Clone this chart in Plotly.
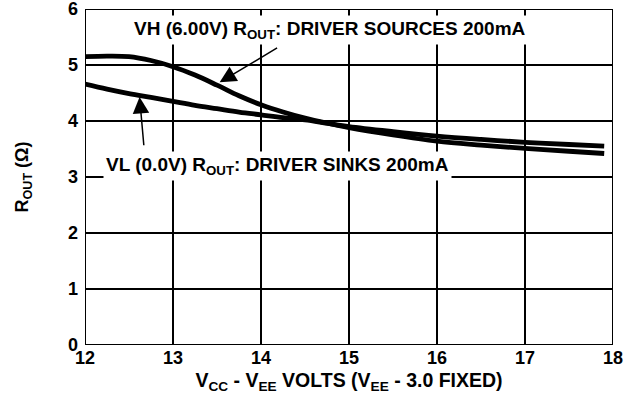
import plotly.graph_objects as go

x_vals = [12, 12.25, 12.5, 12.75, 13, 13.25, 13.5, 13.75, 14, 14.25, 14.5, 14.75, 15, 15.5, 16, 16.5, 17, 17.5, 17.9]
vh_rout = [5.15, 5.16, 5.15, 5.08, 4.97, 4.82, 4.64, 4.45, 4.29, 4.16, 4.05, 3.96, 3.88, 3.75, 3.64, 3.57, 3.51, 3.46, 3.42]
vl_rout = [4.66, 4.57, 4.49, 4.42, 4.35, 4.28, 4.22, 4.16, 4.11, 4.06, 4.02, 3.96, 3.9, 3.81, 3.73, 3.67, 3.62, 3.58, 3.55]

x_ticks = [12, 13, 14, 15, 16, 17, 18]
y_ticks = [0, 1, 2, 3, 4, 5, 6]

label_vh = "VH (6.00V) R<sub>OUT</sub>: DRIVER SOURCES 200mA"
label_vl = "VL (0.0V) R<sub>OUT</sub>: DRIVER SINKS 200mA"
x_title = "V<sub>CC</sub> - V<sub>EE</sub> VOLTS (V<sub>EE</sub> - 3.0 FIXED)"
y_title = "R<sub>OUT</sub> (Ω)"

FONT = "Liberation Sans"
bold = lambda s: "<b>" + s + "</b>"

fig = go.Figure()

# grid + frame lines built from the tick arrays
gx, gy = [], []
for xv in x_ticks:
    gx += [xv, xv, None]
    gy += [y_ticks[0], y_ticks[-1], None]
for yv in y_ticks:
    gx += [x_ticks[0], x_ticks[-1], None]
    gy += [yv, yv, None]
fig.add_trace(go.Scatter(x=gx, y=gy, mode="lines", line=dict(color="black", width=2),
                         showlegend=False, hoverinfo="skip", cliponaxis=False))

fig.add_trace(go.Scatter(x=x_vals, y=vh_rout, mode="lines",
                         line=dict(color="black", width=4.8, shape="spline"), showlegend=False))
fig.add_trace(go.Scatter(x=x_vals, y=vl_rout, mode="lines",
                         line=dict(color="black", width=4.8, shape="spline"), showlegend=False))

fig.update_xaxes(range=[12, 18], tickmode="array", tickvals=x_ticks,
                 ticktext=[bold(str(v)) for v in x_ticks], automargin=False,
                 ticklabeloverflow="allow",
                 showline=False, showgrid=False, zeroline=False, ticks="",
                 tickfont=dict(family=FONT, size=18, color="black"),
                 title=dict(text=bold(x_title), font=dict(family=FONT, size=19.5, color="black"), standoff=6))
fig.update_yaxes(range=[0, 6], tickmode="array", tickvals=y_ticks,
                 ticktext=[bold(str(v)) for v in y_ticks], automargin=False,
                 ticklabeloverflow="allow",
                 showline=False, showgrid=False, zeroline=False, ticks="",
                 ticklabelstandoff=6,
                 tickfont=dict(family=FONT, size=18, color="black"),
                 title=dict(text=bold(y_title), font=dict(family=FONT, size=18, color="black"), standoff=34))

fig.add_annotation(x=14.78, y=5.62, text=bold(label_vh), showarrow=False,
                   bgcolor="white", borderpad=2, font=dict(family=FONT, size=19, color="black"))
fig.add_annotation(x=14.19, y=3.2, text=bold(label_vl), showarrow=False,
                   bgcolor="white", borderpad=2, font=dict(family=FONT, size=19, color="black"))
fig.add_annotation(x=13.53, y=4.69, ax=14.2, ay=5.32, axref="x", ayref="y", text="",
                   showarrow=True, arrowhead=2, arrowsize=2.2, arrowwidth=1.5, arrowcolor="black")
fig.add_annotation(x=12.62, y=4.43, ax=12.67, ay=3.54, axref="x", ayref="y", text="",
                   showarrow=True, arrowhead=2, arrowsize=2.2, arrowwidth=1.5, arrowcolor="black")

fig.update_layout(width=639, height=400, margin=dict(l=85, r=26, t=9, b=55),
                  plot_bgcolor="white", paper_bgcolor="white",
                  font=dict(family=FONT, size=18, color="black"))

fig.write_html("out.html", config={"displayModeBar": False},
               post_script="document.body.style.margin='0';")
